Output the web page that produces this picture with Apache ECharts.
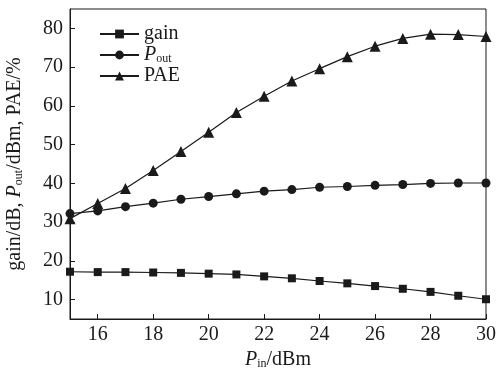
<!DOCTYPE html>
<html><head><meta charset="utf-8">
<script src="https://cdn.jsdelivr.net/npm/echarts@6/dist/echarts.min.js"></script>
<style>html,body{margin:0;padding:0;background:#fff}#c{width:502px;height:371px}</style>
</head><body><div id="c"></div>
<script>
var pin = [15,16,17,18,19,20,21,22,23,24,25,26,27,28,29,30];
var gain = [17.2,17.1,17.1,17.0,16.9,16.7,16.5,16.0,15.5,14.8,14.2,13.5,12.8,12.0,11.0,10.1];
var pout = [32.2,32.9,34.0,34.9,35.9,36.6,37.3,38.0,38.4,39.0,39.2,39.5,39.7,40.0,40.1,40.1];
var pae = [30.9,34.8,38.7,43.3,48.2,53.2,58.3,62.5,66.4,69.6,72.7,75.4,77.4,78.5,78.4,77.9];
var xTicks = [16,18,20,22,24,26,28,30];
var yTicks = [10,20,30,40,50,60,70,80];

var FONT = 'Liberation Serif';
var C = '#1a1a1a';
function pairs(ys){ return pin.map(function(x,i){ return [x, ys[i]]; }); }
function ser(name, data, sym, size){
  return {name:name, type:'line', data:pairs(data), symbol:sym, symbolSize:size,
    lineStyle:{color:C,width:1.2}, itemStyle:{color:C}, z:3};
}
function rich(fs){
  return {n:{fontFamily:FONT,fontSize:fs,color:C},
          i:{fontFamily:FONT,fontSize:fs,fontStyle:'italic',color:C},
          s:{fontFamily:FONT,fontSize:Math.round(fs*0.62),color:C,verticalAlign:'bottom',padding:[6,0,0,0]}};
}
var chart = echarts.init(document.getElementById('c'));
chart.setOption({
  animation:false,
  backgroundColor:'#fff',
  grid:{left:70,right:16,top:9,bottom:52,show:true,borderColor:C,borderWidth:1,outerBoundsMode:'none',containLabel:false},
  legend:{
    orient:'vertical', left:94, top:19, itemWidth:39, itemHeight:11, itemGap:1,
    data:['gain','Pout','PAE'],
    formatter:function(n){ return n==='Pout' ? '{i|P}{s|out}' : '{n|'+n+'}'; },
    textStyle:{fontFamily:FONT,fontSize:20,color:C,rich:rich(20)}
  },
  xAxis:{type:'value',min:15,max:30,
    name:'{i|P}{s|in}{n|/dBm}', nameLocation:'middle', nameGap:30,
    nameTextStyle:{rich:rich(20)},
    axisLine:{show:true,lineStyle:{color:C,width:1}},
    axisTick:{show:true,inside:true,length:5,lineStyle:{color:C},customValues:xTicks},
    axisLabel:{fontFamily:FONT,fontSize:20,color:C,margin:6,customValues:xTicks},
    splitLine:{show:false}},
  yAxis:{type:'value',min:5,max:85,
    name:'{n|gain/dB, }{i|P}{s|out}{n|/dBm, PAE/%}', nameLocation:'middle', nameGap:45, nameRotate:90,
    nameTextStyle:{rich:rich(20)},
    axisLine:{show:true,lineStyle:{color:C,width:1}},
    axisTick:{show:true,inside:true,length:5,lineStyle:{color:C},customValues:yTicks},
    axisLabel:{fontFamily:FONT,fontSize:20,color:C,margin:7,customValues:yTicks},
    splitLine:{show:false}},
  series:[
    ser('gain',gain,'rect',8),
    ser('Pout',pout,'circle',9),
    ser('PAE',pae,'triangle',11)
  ]
});
</script></body></html>
